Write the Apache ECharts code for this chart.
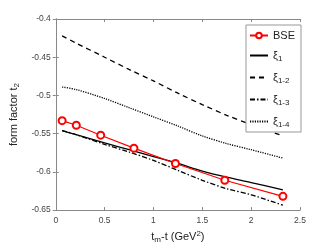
<!DOCTYPE html>
<html><head><meta charset="utf-8">
<script src="https://cdn.jsdelivr.net/npm/echarts@6/dist/echarts.min.js"></script>
<style>html,body{margin:0;padding:0;background:#fff}#c{width:332px;height:249px}</style>
</head><body><div id="c"></div>
<script>
const bseX = [0.065, 0.21, 0.46, 0.80, 1.225, 1.73, 2.325];
const bseY = [-0.533, -0.539, -0.552, -0.569, -0.589, -0.611, -0.632];
const lineX = [0.065, 0.2, 0.5, 0.75, 1.0, 1.25, 1.5, 1.75, 2.0, 2.325];
const xi1  = [-0.546, -0.551, -0.562, -0.571, -0.580, -0.589, -0.599, -0.607, -0.614, -0.6235];
const xi12 = [-0.422, -0.431, -0.450, -0.466, -0.481, -0.497, -0.512, -0.526, -0.538, -0.553];
const xi13 = [-0.546, -0.551, -0.564, -0.574, -0.585, -0.598, -0.611, -0.622, -0.630, -0.6436];
const xi14 = [-0.489, -0.492, -0.504, -0.516, -0.528, -0.540, -0.553, -0.563, -0.571, -0.582];
const xTicks = [0, 0.5, 1, 1.5, 2, 2.5];
const yTicks = [-0.65, -0.6, -0.55, -0.5, -0.45, -0.4];
const names = ['BSE', 'ξ1', 'ξ1-2', 'ξ1-3', 'ξ1-4'];

const pair = (xs, ys) => xs.map((x, i) => [x, ys[i]]);
const axisCol = '#888';
const lblCol = '#444';
const font = 'Liberation Sans, Arial, sans-serif';

const chart = echarts.init(document.getElementById('c'));
const blackLine = (name, data, type) => ({
  name, type: 'line', data, showSymbol: false, symbol: 'none', smooth: 0.3,
  lineStyle: { color: '#000', width: 1.3, type },
  itemStyle: { color: '#000', opacity: 0 }
});
chart.setOption({
  animation: false,
  textStyle: { fontFamily: font },
  grid: { left: 43, right: 32, top: 19, bottom: 35, containLabel: false },
  xAxis: [{
    type: 'value', min: xTicks[0], max: xTicks[xTicks.length - 1], interval: 0.5,
    axisLine: { show: true, lineStyle: { color: axisCol } },
    axisTick: { inside: true, length: 3, lineStyle: { color: axisCol } },
    splitLine: { show: false },
    axisLabel: { color: lblCol, fontSize: 8.5, margin: 6, fontFamily: font },
    name: '{a|t}{s|m}{a|-t (GeV}{p|2}{a|)}', nameLocation: 'middle', nameGap: 18,
    nameTextStyle: { rich: {
      a: { fontSize: 11, color: '#222', fontFamily: font },
      s: { fontSize: 8, color: '#222', fontFamily: font, padding: [6, 0, 0, 0] },
      p: { fontSize: 8, color: '#222', fontFamily: font, padding: [0, 0, 6, 0] }
    } }
  }, {
    type: 'value', position: 'top', min: 0, max: 2.5, interval: 0.5,
    axisLine: { show: true, lineStyle: { color: axisCol } },
    axisTick: { inside: true, length: 3, lineStyle: { color: axisCol } },
    axisLabel: { show: false }, splitLine: { show: false }
  }],
  yAxis: [{
    type: 'value', min: yTicks[0], max: yTicks[yTicks.length - 1], interval: 0.05,
    axisLine: { show: true, lineStyle: { color: axisCol } },
    axisTick: { inside: true, length: 3, lineStyle: { color: axisCol } },
    splitLine: { show: false },
    axisLabel: { color: lblCol, fontSize: 8.5, margin: 5, fontFamily: font,
      formatter: v => String(Math.round(v * 100) / 100) },
    name: '{a|form factor t}{s|2}', nameLocation: 'middle', nameGap: 30, nameRotate: 90,
    nameTextStyle: { rich: {
      a: { fontSize: 11, color: '#222', fontFamily: font },
      s: { fontSize: 8, color: '#222', fontFamily: font, padding: [6, 0, 0, 0] }
    } }
  }, {
    type: 'value', position: 'right', min: -0.65, max: -0.4, interval: 0.05,
    axisLine: { show: true, lineStyle: { color: axisCol } },
    axisTick: { inside: true, length: 3, lineStyle: { color: axisCol } },
    axisLabel: { show: false }, splitLine: { show: false }
  }],
  legend: {
    orient: 'vertical', right: 31, top: 25, itemWidth: 18, itemHeight: 7, itemGap: 9,
    padding: [5, 6, 3, 3],
    borderColor: '#999', borderWidth: 1, backgroundColor: '#fff',
    data: names,
    formatter: n => {
      if (n === 'BSE') return '{a|BSE}';
      const m = n.match(/ξ(.*)/);
      return '{a|ξ}{s|' + m[1] + '}';
    },
    textStyle: { rich: {
      a: { fontSize: 11, color: '#222', fontFamily: font },
      s: { fontSize: 8, color: '#222', fontFamily: font, padding: [7, 0, 0, 0] }
    } }
  },
  series: [
    {
      name: 'BSE', type: 'line', data: pair(bseX, bseY),
      symbol: 'emptyCircle', symbolSize: 7, smooth: false,
      lineStyle: { color: '#ff0000', width: 1.2 },
      itemStyle: { color: '#ff0000', borderColor: '#ff0000', borderWidth: 1.2 }, z: 5
    },
    blackLine('ξ1', pair(lineX, xi1), 'solid'),
    blackLine('ξ1-2', pair(lineX, xi12), [5, 4]),
    blackLine('ξ1-3', pair(lineX, xi13), [5, 2, 1.5, 2]),
    blackLine('ξ1-4', pair(lineX, xi14), [1.2, 1.2])
  ]
});
</script></body></html>
